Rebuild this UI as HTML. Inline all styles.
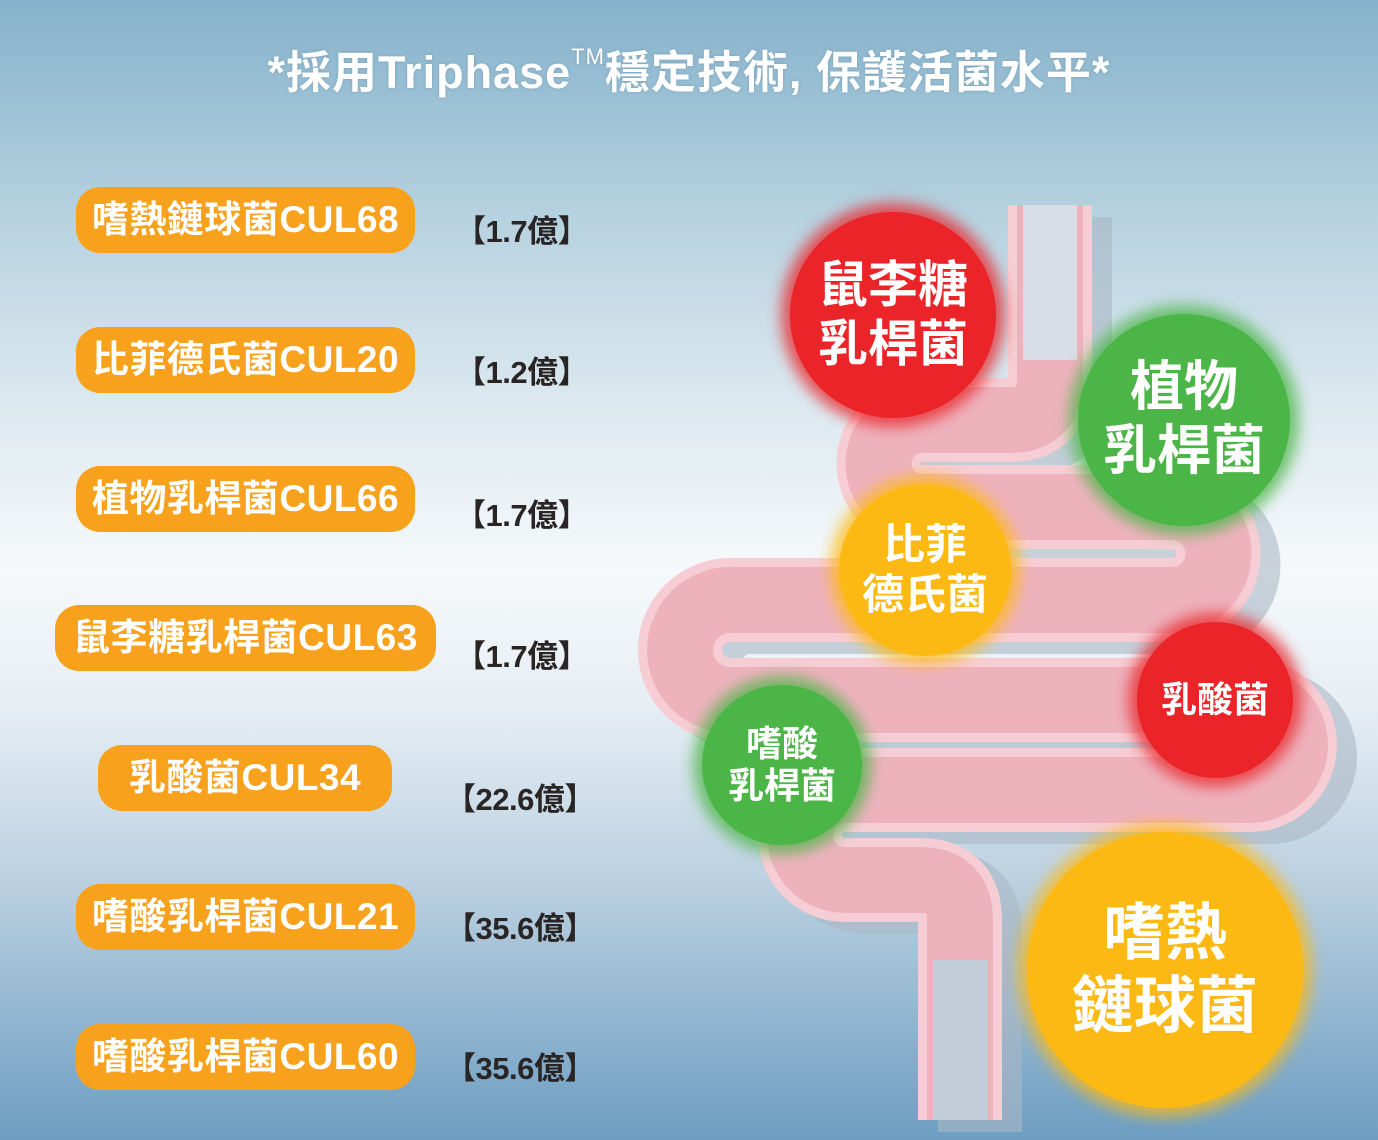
<!DOCTYPE html>
<html><head><meta charset="utf-8">
<style>
html,body{margin:0;padding:0}
body{width:1378px;height:1140px;position:relative;overflow:hidden;
background:linear-gradient(180deg,#85b2cb 0%,#b4d0df 18%,#dbe8ef 35%,#f6f9fb 50%,#e6eef4 62%,#b9cfe0 78%,#8fb4cf 90%,#6d9ec2 100%);
font-family:"Liberation Sans","Noto Sans CJK TC",sans-serif;}
.title{position:absolute;left:0;width:1378px;top:36px;text-align:center;color:#fff;font-weight:bold;font-size:45px;letter-spacing:1px;white-space:nowrap;text-shadow:0 0 3px rgba(80,120,150,.4)}
.title sup{font-size:22px;vertical-align:24px;font-weight:normal}
.pill{position:absolute;height:66px;border-radius:24px;background:#f7a11c;color:#fff;font-weight:bold;font-size:37px;line-height:66px;text-align:center;white-space:nowrap;letter-spacing:0.5px}
.amt{position:absolute;font-weight:bold;font-size:31px;color:#2a2525;white-space:nowrap;letter-spacing:-0.5px}
.c{position:absolute;border-radius:50%;color:#fff;font-weight:bold;text-align:center;display:flex;align-items:center;justify-content:center;line-height:1.18;white-space:nowrap}
.red{background:#ea2428;box-shadow:0 0 14px 9px rgba(234,36,40,.75)}
.green{background:#4cb548;box-shadow:0 0 14px 9px rgba(76,181,72,.75)}
.yellow{background:#fdb913;box-shadow:0 0 14px 9px rgba(253,185,19,.75)}
</style></head><body>
<div class="title">*採用Triphase<sup>TM</sup>穩定技術, 保護活菌水平*</div>

<div class="pill" style="left:76px;top:187px;width:339px">嗜熱鏈球菌CUL68</div>
<div class="pill" style="left:76px;top:327px;width:339px">比菲德氏菌CUL20</div>
<div class="pill" style="left:76px;top:466px;width:339px">植物乳桿菌CUL66</div>
<div class="pill" style="left:55px;top:605px;width:381px">鼠李糖乳桿菌CUL63</div>
<div class="pill" style="left:98px;top:745px;width:294px">乳酸菌CUL34</div>
<div class="pill" style="left:76px;top:884px;width:339px">嗜酸乳桿菌CUL21</div>
<div class="pill" style="left:76px;top:1024px;width:339px">嗜酸乳桿菌CUL60</div>

<div class="amt" style="left:455px;top:206px">【1.7億】</div>
<div class="amt" style="left:455px;top:347px">【1.2億】</div>
<div class="amt" style="left:455px;top:490px">【1.7億】</div>
<div class="amt" style="left:455px;top:631px">【1.7億】</div>
<div class="amt" style="left:445px;top:774px">【22.6億】</div>
<div class="amt" style="left:445px;top:903px">【35.6億】</div>
<div class="amt" style="left:445px;top:1043px">【35.6億】</div>

<svg style="position:absolute;left:0;top:0" width="1378" height="1140">
<g fill="none" stroke-linecap="butt">
<path transform="translate(20,12)" d="M1050 205 V380 Q1050 420 1010 420 H922 A43.5 43.5 0 0 0 922 507 H1172 A46.5 46.5 0 0 1 1172 600 H730 A50 50 0 0 0 730 700 H1250 A45 45 0 0 1 1250 790 H845 A45 45 0 0 0 845 880 H920 Q960 880 960 920 V1120" stroke="#aab8c4" stroke-opacity=".6" stroke-width="84"/>
<path d="M1050 205 V380 Q1050 420 1010 420 H922 A43.5 43.5 0 0 0 922 507 H1172 A46.5 46.5 0 0 1 1172 600 H730 A50 50 0 0 0 730 700 H1250 A45 45 0 0 1 1250 790 H845 A45 45 0 0 0 845 880 H920 Q960 880 960 920 V1120" stroke="#f6cdd4" stroke-width="84"/>
<path d="M1050 205 V380 Q1050 420 1010 420 H922 A43.5 43.5 0 0 0 922 507 H1172 A46.5 46.5 0 0 1 1172 600 H730 A50 50 0 0 0 730 700 H1250 A45 45 0 0 1 1250 790 H845 A45 45 0 0 0 845 880 H920 Q960 880 960 920 V1120" stroke="#eeb2bd" stroke-width="66"/>
<path d="M1050 205 V360" stroke="#d9dde6" stroke-width="54"/>
<path d="M960 960 V1120" stroke="#c4cedb" stroke-width="54"/>
</g>
</svg>

<div class="c red" style="left:790px;top:212px;width:206px;height:206px;font-size:50px">鼠李糖<br>乳桿菌</div>
<div class="c green" style="left:1078px;top:314px;width:212px;height:212px;font-size:54px">植物<br>乳桿菌</div>
<div class="c yellow" style="left:839px;top:484px;width:172px;height:172px;font-size:42px">比菲<br>德氏菌</div>
<div class="c red" style="left:1137px;top:622px;width:156px;height:156px;font-size:36px">乳酸菌</div>
<div class="c green" style="left:702px;top:685px;width:160px;height:160px;font-size:36px">嗜酸<br>乳桿菌</div>
<div class="c yellow" style="left:1027px;top:832px;width:276px;height:276px;font-size:62px">嗜熱<br>鏈球菌</div>
</body></html>
